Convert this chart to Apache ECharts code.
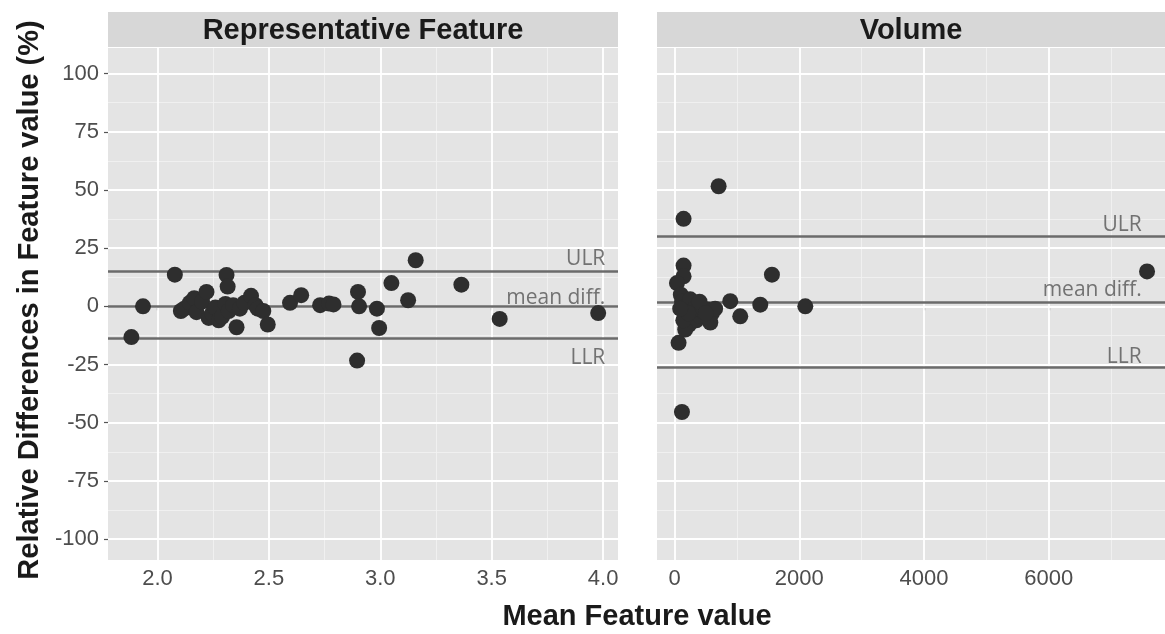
<!DOCTYPE html>
<html>
<head>
<meta charset="utf-8">
<script src="https://cdn.jsdelivr.net/npm/echarts@6/dist/echarts.min.js"></script>
<style>html,body{margin:0;padding:0;background:#fff}#c{width:1165px;height:634px}</style>
</head>
<body>
<div id="c"></div>
<script>
// ---------- data ----------
const panelTitles = ['Representative Feature', 'Volume'];
const xAxisTitle = 'Mean Feature value';
const yAxisTitle = 'Relative Differences in Feature value (%)';

const yTicks = [-100, -75, -50, -25, 0, 25, 50, 75, 100];
const yMinor = [-87.5, -62.5, -37.5, -12.5, 12.5, 37.5, 62.5, 87.5];
const leftXTicks = [2.0, 2.5, 3.0, 3.5, 4.0];
const leftXMinor = [2.25, 2.75, 3.25, 3.75];
const rightXTicks = [0, 2000, 4000, 6000];
const rightXMinor = [1000, 3000, 5000, 7000];

const limitNames = ['ULR', 'mean diff.', 'LLR'];
const leftLimits = [15.2, 0, -13.9];
const rightLimits = [30, 1.7, -26.2];
const leftLabelY = [20.5, 3.7, -22];
const rightLabelY = [35, 7.2, -21.6];

const leftPoints = [
  [1.883, -13.2], [1.935, 0], [2.078, 13.6], [2.105, -2], [2.12, -1], [2.145, 1.5],
  [2.165, 3.5], [2.175, -2.5], [2.2, 2], [2.22, 6.2], [2.23, -5], [2.245, -3],
  [2.26, -0.5], [2.275, -6], [2.29, -4.5], [2.31, 13.5], [2.315, 8.5], [2.305, 1],
  [2.32, -2], [2.34, 0.5], [2.355, -9], [2.37, -1], [2.39, 1.5], [2.42, 4.5],
  [2.44, 0.5], [2.45, -1], [2.475, -2], [2.495, -7.8], [2.595, 1.5], [2.645, 4.8],
  [2.73, 0.5], [2.77, 1.2], [2.79, 0.8], [2.90, 6.2], [2.905, 0], [2.896, -23.3],
  [2.985, -1], [2.995, -9.3], [3.05, 10], [3.125, 2.6], [3.159, 19.8], [3.364, 9.3],
  [3.536, -5.4], [3.978, -2.9]
];

const rightPoints = [
  [706, 51.6], [144, 37.6], [144, 17.5], [144, 12.9], [38, 10], [1561, 13.6],
  [893, 2.2], [1374, 0.7], [2096, 0], [1053, -4.3], [64, -15.7], [118, -45.4],
  [100, 5], [120, 2], [150, -2], [180, 0], [200, -5], [230, -8], [260, -3],
  [300, 1], [350, -6], [400, -4], [450, -2], [520, -1.4], [573, -7], [600, -3],
  [650, -1], [170, -10], [250, 3], [320, -1], [400, 2], [140, -6], [220, -3],
  [90, -1], [500, -3], [7576, 15]
];

// ---------- chart ----------
const GRID_TOP = 48, GRID_BOTTOM = 74;
const grids = [
  { left: 108, right: 547, top: GRID_TOP, bottom: GRID_BOTTOM },
  { left: 657, right: 0, top: GRID_TOP, bottom: GRID_BOTTOM }
];
const xRanges = [[1.778, 4.067], [-282, 7864]];
const yRange = [-109, 111];

const labelFont = { color: '#4d4d4d', fontSize: 22, fontFamily: 'Liberation Sans, Arial, sans-serif' };
const titleFont = 'bold 29px "Liberation Sans", Arial, sans-serif';

function gridSeries(idx, xMajor, xMinor) {
  const data = [];
  yMinor.forEach(v => data.push({ yAxis: v, lineStyle: { width: 0.8, color: '#f2f2f2' } }));
  xMinor.forEach(v => data.push({ xAxis: v, lineStyle: { width: 0.8, color: '#f2f2f2' } }));
  yTicks.forEach(v => data.push({ yAxis: v, lineStyle: { width: 1.8, color: '#ffffff' } }));
  xMajor.forEach(v => data.push({ xAxis: v, lineStyle: { width: 1.8, color: '#ffffff' } }));
  return {
    type: 'scatter', xAxisIndex: idx, yAxisIndex: idx, data: [], silent: true, z: 1,
    markLine: { silent: true, symbol: 'none', animation: false, label: { show: false },
      lineStyle: { type: 'solid' }, data: data, z: 1 }
  };
}
function limitSeries(idx, vals) {
  return {
    type: 'scatter', xAxisIndex: idx, yAxisIndex: idx, data: [], silent: true, z: 2,
    markLine: { silent: true, symbol: 'none', animation: false, label: { show: false }, z: 2,
      data: vals.map(v => ({ yAxis: v, lineStyle: { width: 2.6, color: '#6b6b6b', type: 'solid' } })) }
  };
}
function labelSeries(idx, xAnchor, ys) {
  return {
    type: 'scatter', xAxisIndex: idx, yAxisIndex: idx, symbolSize: 0, silent: true, z: 3,
    data: ys.map((y, i) => ({ value: [xAnchor, y], name: limitNames[i] })),
    label: { show: true, position: 'left', distance: 0, formatter: p => p.name,
      color: '#555555', fontSize: 21, fontFamily: 'Open Sans, sans-serif' }
  };
}
function pointSeries(idx, pts) {
  return {
    type: 'scatter', xAxisIndex: idx, yAxisIndex: idx, data: pts, symbolSize: 16, z: 10,
    itemStyle: { color: '#2e2e2e', opacity: 1 }, animation: false
  };
}

function xAxisDef(idx, ticks, fmt) {
  return {
    type: 'value', gridIndex: idx, min: xRanges[idx][0], max: xRanges[idx][1],
    axisLine: { show: false }, splitLine: { show: false },
    axisTick: { show: true, length: 4, lineStyle: { color: '#555', width: 1.2 }, customValues: ticks },
    axisLabel: Object.assign({ customValues: ticks, margin: 8, formatter: fmt }, labelFont)
  };
}
function yAxisDef(idx, showLabels) {
  return {
    type: 'value', gridIndex: idx, min: yRange[0], max: yRange[1],
    axisLine: { show: false }, splitLine: { show: false },
    axisTick: { show: showLabels, length: 4, lineStyle: { color: '#555', width: 1.2 }, customValues: yTicks },
    axisLabel: Object.assign({ show: showLabels, customValues: yTicks, margin: 9 }, labelFont)
  };
}

const chart = echarts.init(document.getElementById('c'), null, { renderer: 'canvas' });
chart.setOption({
  animation: false,
  backgroundColor: '#ffffff',
  grid: grids.map(g => Object.assign({ show: true, backgroundColor: '#e4e4e4', borderWidth: 0 }, g)),
  xAxis: [
    xAxisDef(0, leftXTicks, v => v.toFixed(1)),
    xAxisDef(1, rightXTicks, v => String(v))
  ],
  yAxis: [yAxisDef(0, true), yAxisDef(1, false)],
  series: [
    gridSeries(0, leftXTicks, leftXMinor),
    gridSeries(1, rightXTicks, rightXMinor),
    limitSeries(0, leftLimits),
    limitSeries(1, rightLimits),
    labelSeries(0, 4.01, leftLabelY),
    labelSeries(1, 7490, rightLabelY),
    pointSeries(0, leftPoints),
    pointSeries(1, rightPoints)
  ],
  graphic: [
    { type: 'rect', shape: { x: 108, y: 12, width: 510, height: 35 }, style: { fill: '#d7d7d7' } },
    { type: 'rect', shape: { x: 657, y: 12, width: 508, height: 35 }, style: { fill: '#d7d7d7' } },
    { type: 'text', x: 363, y: 31, style: { text: panelTitles[0], fill: '#1a1a1a', font: titleFont, textAlign: 'center', textVerticalAlign: 'middle' } },
    { type: 'text', x: 911, y: 31, style: { text: panelTitles[1], fill: '#1a1a1a', font: titleFont, textAlign: 'center', textVerticalAlign: 'middle' } },
    { type: 'text', x: 637, y: 617, style: { text: xAxisTitle, fill: '#1a1a1a', font: titleFont, textAlign: 'center', textVerticalAlign: 'middle' } },
    { type: 'text', x: 30, y: 300, rotation: Math.PI / 2, style: { text: yAxisTitle, fill: '#1a1a1a', font: titleFont, textAlign: 'center', textVerticalAlign: 'middle' } }
  ]
});
</script>
</body>
</html>
